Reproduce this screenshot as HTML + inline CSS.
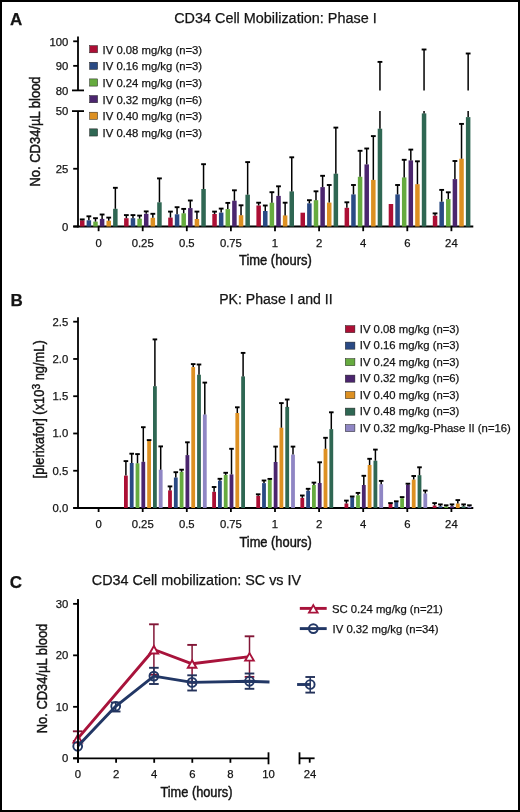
<!DOCTYPE html>
<html><head><meta charset="utf-8"><style>
html,body{margin:0;padding:0;background:#fff;}
#fig{position:relative;width:520px;height:812px;box-sizing:border-box;border:2px solid #000;background:#fff;overflow:hidden;}
svg{position:absolute;left:-2px;top:-2px;will-change:transform;}
text{font-family:"Liberation Sans", sans-serif;fill:#141414;stroke:#141414;stroke-width:0.25px;}
text.at{stroke-width:0.45px;}
</style></head><body><div id="fig">
<svg width="520" height="812" viewBox="0 0 520 812">
<text x="10.00" y="24.90" font-size="17" text-anchor="start" font-weight="bold">A</text>
<text x="174.20" y="22.60" font-size="14" text-anchor="start" font-weight="normal" textLength="202.5" lengthAdjust="spacingAndGlyphs">CD34 Cell Mobilization: Phase I</text>
<text class="at" transform="translate(39.6,186.6) rotate(-90)" font-size="14" textLength="110.2" lengthAdjust="spacingAndGlyphs">No. CD34/µL blood</text>
<line x1="78.00" y1="36.50" x2="78.00" y2="90.40" stroke="#000" stroke-width="1.8"/>
<line x1="72.00" y1="90.40" x2="84.00" y2="90.40" stroke="#000" stroke-width="1.8"/>
<line x1="78.00" y1="111.10" x2="78.00" y2="227.40" stroke="#000" stroke-width="1.8"/>
<line x1="72.00" y1="111.10" x2="84.00" y2="111.10" stroke="#000" stroke-width="1.8"/>
<line x1="73.20" y1="41.30" x2="78.00" y2="41.30" stroke="#000" stroke-width="1.8"/>
<line x1="73.20" y1="65.85" x2="78.00" y2="65.85" stroke="#000" stroke-width="1.8"/>
<line x1="73.20" y1="168.75" x2="78.00" y2="168.75" stroke="#000" stroke-width="1.8"/>
<line x1="73.20" y1="226.50" x2="78.00" y2="226.50" stroke="#000" stroke-width="1.8"/>
<text x="68.30" y="45.60" font-size="11.3" text-anchor="end" font-weight="normal">100</text>
<text x="68.30" y="70.15" font-size="11.3" text-anchor="end" font-weight="normal">90</text>
<text x="68.30" y="94.70" font-size="11.3" text-anchor="end" font-weight="normal">80</text>
<text x="68.30" y="115.30" font-size="11.3" text-anchor="end" font-weight="normal">50</text>
<text x="68.30" y="173.05" font-size="11.3" text-anchor="end" font-weight="normal">25</text>
<text x="68.30" y="230.80" font-size="11.3" text-anchor="end" font-weight="normal">0</text>
<line x1="73.30" y1="226.50" x2="473.30" y2="226.50" stroke="#000" stroke-width="1.8"/>
<line x1="98.60" y1="226.50" x2="98.60" y2="231.20" stroke="#000" stroke-width="1.8"/>
<text x="98.60" y="247.00" font-size="11.3" text-anchor="middle" font-weight="normal">0</text>
<line x1="142.70" y1="226.50" x2="142.70" y2="231.20" stroke="#000" stroke-width="1.8"/>
<text x="142.70" y="247.00" font-size="11.3" text-anchor="middle" font-weight="normal">0.25</text>
<line x1="186.80" y1="226.50" x2="186.80" y2="231.20" stroke="#000" stroke-width="1.8"/>
<text x="186.80" y="247.00" font-size="11.3" text-anchor="middle" font-weight="normal">0.5</text>
<line x1="230.90" y1="226.50" x2="230.90" y2="231.20" stroke="#000" stroke-width="1.8"/>
<text x="230.90" y="247.00" font-size="11.3" text-anchor="middle" font-weight="normal">0.75</text>
<line x1="275.00" y1="226.50" x2="275.00" y2="231.20" stroke="#000" stroke-width="1.8"/>
<text x="275.00" y="247.00" font-size="11.3" text-anchor="middle" font-weight="normal">1</text>
<line x1="319.10" y1="226.50" x2="319.10" y2="231.20" stroke="#000" stroke-width="1.8"/>
<text x="319.10" y="247.00" font-size="11.3" text-anchor="middle" font-weight="normal">2</text>
<line x1="363.20" y1="226.50" x2="363.20" y2="231.20" stroke="#000" stroke-width="1.8"/>
<text x="363.20" y="247.00" font-size="11.3" text-anchor="middle" font-weight="normal">4</text>
<line x1="407.30" y1="226.50" x2="407.30" y2="231.20" stroke="#000" stroke-width="1.8"/>
<text x="407.30" y="247.00" font-size="11.3" text-anchor="middle" font-weight="normal">6</text>
<line x1="451.40" y1="226.50" x2="451.40" y2="231.20" stroke="#000" stroke-width="1.8"/>
<text x="451.40" y="247.00" font-size="11.3" text-anchor="middle" font-weight="normal">24</text>
<text x="239.00" y="265.40" font-size="14" text-anchor="start" font-weight="normal" textLength="72.8" lengthAdjust="spacingAndGlyphs" class="at">Time (hours)</text>
<rect x="89.6" y="45.60" width="8" height="7.2" fill="#ac0f35" stroke="#222" stroke-width="0.5"/>
<text x="102.60" y="53.80" font-size="11.3" text-anchor="start" font-weight="normal">IV 0.08 mg/kg (n=3)</text>
<rect x="89.6" y="62.25" width="8" height="7.2" fill="#2a4a84" stroke="#222" stroke-width="0.5"/>
<text x="102.60" y="70.45" font-size="11.3" text-anchor="start" font-weight="normal">IV 0.16 mg/kg (n=3)</text>
<rect x="89.6" y="78.90" width="8" height="7.2" fill="#66ab3f" stroke="#222" stroke-width="0.5"/>
<text x="102.60" y="87.10" font-size="11.3" text-anchor="start" font-weight="normal">IV 0.24 mg/kg (n=3)</text>
<rect x="89.6" y="95.55" width="8" height="7.2" fill="#4b256e" stroke="#222" stroke-width="0.5"/>
<text x="102.60" y="103.75" font-size="11.3" text-anchor="start" font-weight="normal">IV 0.32 mg/kg (n=6)</text>
<rect x="89.6" y="112.20" width="8" height="7.2" fill="#dd9022" stroke="#222" stroke-width="0.5"/>
<text x="102.60" y="120.40" font-size="11.3" text-anchor="start" font-weight="normal">IV 0.40 mg/kg (n=3)</text>
<rect x="89.6" y="128.85" width="8" height="7.2" fill="#2f6753" stroke="#222" stroke-width="0.5"/>
<text x="102.60" y="137.05" font-size="11.3" text-anchor="start" font-weight="normal">IV 0.48 mg/kg (n=3)</text>
<rect x="80.00" y="220.30" width="4.50" height="6.20" fill="#ac0f35"/>
<line x1="82.25" y1="220.30" x2="82.25" y2="219.40" stroke="#000" stroke-width="1.5"/>
<line x1="79.85" y1="219.40" x2="84.65" y2="219.40" stroke="#000" stroke-width="1.9"/>
<rect x="86.62" y="220.30" width="4.50" height="6.20" fill="#2a4a84"/>
<line x1="88.87" y1="220.30" x2="88.87" y2="216.30" stroke="#000" stroke-width="1.5"/>
<line x1="86.47" y1="216.30" x2="91.27" y2="216.30" stroke="#000" stroke-width="1.9"/>
<rect x="93.24" y="221.60" width="4.50" height="4.90" fill="#66ab3f"/>
<line x1="95.49" y1="221.60" x2="95.49" y2="218.20" stroke="#000" stroke-width="1.5"/>
<line x1="93.09" y1="218.20" x2="97.89" y2="218.20" stroke="#000" stroke-width="1.9"/>
<rect x="99.86" y="218.90" width="4.50" height="7.60" fill="#4b256e"/>
<line x1="102.11" y1="218.90" x2="102.11" y2="214.50" stroke="#000" stroke-width="1.5"/>
<line x1="99.71" y1="214.50" x2="104.51" y2="214.50" stroke="#000" stroke-width="1.9"/>
<rect x="106.48" y="220.70" width="4.50" height="5.80" fill="#dd9022"/>
<line x1="108.73" y1="220.70" x2="108.73" y2="217.60" stroke="#000" stroke-width="1.5"/>
<line x1="106.33" y1="217.60" x2="111.13" y2="217.60" stroke="#000" stroke-width="1.9"/>
<rect x="113.10" y="208.80" width="4.50" height="17.70" fill="#2f6753"/>
<line x1="115.35" y1="208.80" x2="115.35" y2="187.80" stroke="#000" stroke-width="1.5"/>
<line x1="112.95" y1="187.80" x2="117.75" y2="187.80" stroke="#000" stroke-width="1.9"/>
<rect x="124.10" y="218.20" width="4.50" height="8.30" fill="#ac0f35"/>
<line x1="126.35" y1="218.20" x2="126.35" y2="215.10" stroke="#000" stroke-width="1.5"/>
<line x1="123.95" y1="215.10" x2="128.75" y2="215.10" stroke="#000" stroke-width="1.9"/>
<rect x="130.72" y="218.20" width="4.50" height="8.30" fill="#2a4a84"/>
<line x1="132.97" y1="218.20" x2="132.97" y2="215.10" stroke="#000" stroke-width="1.5"/>
<line x1="130.57" y1="215.10" x2="135.37" y2="215.10" stroke="#000" stroke-width="1.9"/>
<rect x="137.34" y="218.70" width="4.50" height="7.80" fill="#66ab3f"/>
<line x1="139.59" y1="218.70" x2="139.59" y2="215.60" stroke="#000" stroke-width="1.5"/>
<line x1="137.19" y1="215.60" x2="141.99" y2="215.60" stroke="#000" stroke-width="1.9"/>
<rect x="143.96" y="213.80" width="4.50" height="12.70" fill="#4b256e"/>
<line x1="146.21" y1="213.80" x2="146.21" y2="211.40" stroke="#000" stroke-width="1.5"/>
<line x1="143.81" y1="211.40" x2="148.61" y2="211.40" stroke="#000" stroke-width="1.9"/>
<rect x="150.58" y="217.80" width="4.50" height="8.70" fill="#dd9022"/>
<line x1="152.83" y1="217.80" x2="152.83" y2="213.80" stroke="#000" stroke-width="1.5"/>
<line x1="150.43" y1="213.80" x2="155.23" y2="213.80" stroke="#000" stroke-width="1.9"/>
<rect x="157.20" y="202.30" width="4.50" height="24.20" fill="#2f6753"/>
<line x1="159.45" y1="202.30" x2="159.45" y2="178.40" stroke="#000" stroke-width="1.5"/>
<line x1="157.05" y1="178.40" x2="161.85" y2="178.40" stroke="#000" stroke-width="1.9"/>
<rect x="168.20" y="217.60" width="4.50" height="8.90" fill="#ac0f35"/>
<line x1="170.45" y1="217.60" x2="170.45" y2="211.60" stroke="#000" stroke-width="1.5"/>
<line x1="168.05" y1="211.60" x2="172.85" y2="211.60" stroke="#000" stroke-width="1.9"/>
<rect x="174.82" y="214.30" width="4.50" height="12.20" fill="#2a4a84"/>
<line x1="177.07" y1="214.30" x2="177.07" y2="207.20" stroke="#000" stroke-width="1.5"/>
<line x1="174.67" y1="207.20" x2="179.47" y2="207.20" stroke="#000" stroke-width="1.9"/>
<rect x="181.44" y="213.30" width="4.50" height="13.20" fill="#66ab3f"/>
<line x1="183.69" y1="213.30" x2="183.69" y2="208.90" stroke="#000" stroke-width="1.5"/>
<line x1="181.29" y1="208.90" x2="186.09" y2="208.90" stroke="#000" stroke-width="1.9"/>
<rect x="188.06" y="208.10" width="4.50" height="18.40" fill="#4b256e"/>
<line x1="190.31" y1="208.10" x2="190.31" y2="200.50" stroke="#000" stroke-width="1.5"/>
<line x1="187.91" y1="200.50" x2="192.71" y2="200.50" stroke="#000" stroke-width="1.9"/>
<rect x="194.68" y="219.00" width="4.50" height="7.50" fill="#dd9022"/>
<line x1="196.93" y1="219.00" x2="196.93" y2="211.60" stroke="#000" stroke-width="1.5"/>
<line x1="194.53" y1="211.60" x2="199.33" y2="211.60" stroke="#000" stroke-width="1.9"/>
<rect x="201.30" y="189.00" width="4.50" height="37.50" fill="#2f6753"/>
<line x1="203.55" y1="189.00" x2="203.55" y2="164.20" stroke="#000" stroke-width="1.5"/>
<line x1="201.15" y1="164.20" x2="205.95" y2="164.20" stroke="#000" stroke-width="1.9"/>
<rect x="212.30" y="214.00" width="4.50" height="12.50" fill="#ac0f35"/>
<line x1="214.55" y1="214.00" x2="214.55" y2="211.60" stroke="#000" stroke-width="1.5"/>
<line x1="212.15" y1="211.60" x2="216.95" y2="211.60" stroke="#000" stroke-width="1.9"/>
<rect x="218.92" y="212.60" width="4.50" height="13.90" fill="#2a4a84"/>
<line x1="221.17" y1="212.60" x2="221.17" y2="208.60" stroke="#000" stroke-width="1.5"/>
<line x1="218.77" y1="208.60" x2="223.57" y2="208.60" stroke="#000" stroke-width="1.9"/>
<rect x="225.54" y="209.10" width="4.50" height="17.40" fill="#66ab3f"/>
<line x1="227.79" y1="209.10" x2="227.79" y2="202.90" stroke="#000" stroke-width="1.5"/>
<line x1="225.39" y1="202.90" x2="230.19" y2="202.90" stroke="#000" stroke-width="1.9"/>
<rect x="232.16" y="200.70" width="4.50" height="25.80" fill="#4b256e"/>
<line x1="234.41" y1="200.70" x2="234.41" y2="190.30" stroke="#000" stroke-width="1.5"/>
<line x1="232.01" y1="190.30" x2="236.81" y2="190.30" stroke="#000" stroke-width="1.9"/>
<rect x="238.78" y="215.20" width="4.50" height="11.30" fill="#dd9022"/>
<line x1="241.03" y1="215.20" x2="241.03" y2="205.30" stroke="#000" stroke-width="1.5"/>
<line x1="238.63" y1="205.30" x2="243.43" y2="205.30" stroke="#000" stroke-width="1.9"/>
<rect x="245.40" y="194.70" width="4.50" height="31.80" fill="#2f6753"/>
<line x1="247.65" y1="194.70" x2="247.65" y2="162.10" stroke="#000" stroke-width="1.5"/>
<line x1="245.25" y1="162.10" x2="250.05" y2="162.10" stroke="#000" stroke-width="1.9"/>
<rect x="256.40" y="205.50" width="4.50" height="21.00" fill="#ac0f35"/>
<line x1="258.65" y1="205.50" x2="258.65" y2="202.70" stroke="#000" stroke-width="1.5"/>
<line x1="256.25" y1="202.70" x2="261.05" y2="202.70" stroke="#000" stroke-width="1.9"/>
<rect x="263.02" y="211.00" width="4.50" height="15.50" fill="#2a4a84"/>
<line x1="265.27" y1="211.00" x2="265.27" y2="205.50" stroke="#000" stroke-width="1.5"/>
<line x1="262.87" y1="205.50" x2="267.67" y2="205.50" stroke="#000" stroke-width="1.9"/>
<rect x="269.64" y="202.70" width="4.50" height="23.80" fill="#66ab3f"/>
<line x1="271.89" y1="202.70" x2="271.89" y2="192.20" stroke="#000" stroke-width="1.5"/>
<line x1="269.49" y1="192.20" x2="274.29" y2="192.20" stroke="#000" stroke-width="1.9"/>
<rect x="276.26" y="195.90" width="4.50" height="30.60" fill="#4b256e"/>
<line x1="278.51" y1="195.90" x2="278.51" y2="186.30" stroke="#000" stroke-width="1.5"/>
<line x1="276.11" y1="186.30" x2="280.91" y2="186.30" stroke="#000" stroke-width="1.9"/>
<rect x="282.88" y="215.40" width="4.50" height="11.10" fill="#dd9022"/>
<line x1="285.13" y1="215.40" x2="285.13" y2="202.70" stroke="#000" stroke-width="1.5"/>
<line x1="282.73" y1="202.70" x2="287.53" y2="202.70" stroke="#000" stroke-width="1.9"/>
<rect x="289.50" y="191.40" width="4.50" height="35.10" fill="#2f6753"/>
<line x1="291.75" y1="191.40" x2="291.75" y2="157.30" stroke="#000" stroke-width="1.5"/>
<line x1="289.35" y1="157.30" x2="294.15" y2="157.30" stroke="#000" stroke-width="1.9"/>
<rect x="300.50" y="212.70" width="4.50" height="13.80" fill="#ac0f35"/>
<rect x="307.12" y="203.30" width="4.50" height="23.20" fill="#2a4a84"/>
<line x1="309.37" y1="203.30" x2="309.37" y2="200.20" stroke="#000" stroke-width="1.5"/>
<line x1="306.97" y1="200.20" x2="311.77" y2="200.20" stroke="#000" stroke-width="1.9"/>
<rect x="313.74" y="200.20" width="4.50" height="26.30" fill="#66ab3f"/>
<line x1="315.99" y1="200.20" x2="315.99" y2="191.30" stroke="#000" stroke-width="1.5"/>
<line x1="313.59" y1="191.30" x2="318.39" y2="191.30" stroke="#000" stroke-width="1.9"/>
<rect x="320.36" y="187.10" width="4.50" height="39.40" fill="#4b256e"/>
<line x1="322.61" y1="187.10" x2="322.61" y2="175.80" stroke="#000" stroke-width="1.5"/>
<line x1="320.21" y1="175.80" x2="325.01" y2="175.80" stroke="#000" stroke-width="1.9"/>
<rect x="326.98" y="202.60" width="4.50" height="23.90" fill="#dd9022"/>
<line x1="329.23" y1="202.60" x2="329.23" y2="185.00" stroke="#000" stroke-width="1.5"/>
<line x1="326.83" y1="185.00" x2="331.63" y2="185.00" stroke="#000" stroke-width="1.9"/>
<rect x="333.60" y="173.70" width="4.50" height="52.80" fill="#2f6753"/>
<line x1="335.85" y1="173.70" x2="335.85" y2="127.60" stroke="#000" stroke-width="1.5"/>
<line x1="333.45" y1="127.60" x2="338.25" y2="127.60" stroke="#000" stroke-width="1.9"/>
<rect x="344.60" y="207.80" width="4.50" height="18.70" fill="#ac0f35"/>
<line x1="346.85" y1="207.80" x2="346.85" y2="202.30" stroke="#000" stroke-width="1.5"/>
<line x1="344.45" y1="202.30" x2="349.25" y2="202.30" stroke="#000" stroke-width="1.9"/>
<rect x="351.22" y="194.40" width="4.50" height="32.10" fill="#2a4a84"/>
<line x1="353.47" y1="194.40" x2="353.47" y2="185.00" stroke="#000" stroke-width="1.5"/>
<line x1="351.07" y1="185.00" x2="355.87" y2="185.00" stroke="#000" stroke-width="1.9"/>
<rect x="357.84" y="176.80" width="4.50" height="49.70" fill="#66ab3f"/>
<line x1="360.09" y1="176.80" x2="360.09" y2="150.80" stroke="#000" stroke-width="1.5"/>
<line x1="357.69" y1="150.80" x2="362.49" y2="150.80" stroke="#000" stroke-width="1.9"/>
<rect x="364.46" y="164.40" width="4.50" height="62.10" fill="#4b256e"/>
<line x1="366.71" y1="164.40" x2="366.71" y2="148.50" stroke="#000" stroke-width="1.5"/>
<line x1="364.31" y1="148.50" x2="369.11" y2="148.50" stroke="#000" stroke-width="1.9"/>
<rect x="371.08" y="179.90" width="4.50" height="46.60" fill="#dd9022"/>
<line x1="373.33" y1="179.90" x2="373.33" y2="136.10" stroke="#000" stroke-width="1.5"/>
<line x1="370.93" y1="136.10" x2="375.73" y2="136.10" stroke="#000" stroke-width="1.9"/>
<rect x="377.70" y="128.70" width="4.50" height="97.80" fill="#2f6753"/>
<line x1="379.95" y1="128.70" x2="379.95" y2="111.10" stroke="#000" stroke-width="1.5"/>
<line x1="379.95" y1="90.40" x2="379.95" y2="61.90" stroke="#000" stroke-width="1.5"/>
<line x1="377.55" y1="61.90" x2="382.35" y2="61.90" stroke="#000" stroke-width="1.9"/>
<rect x="388.70" y="204.00" width="4.50" height="22.50" fill="#ac0f35"/>
<rect x="395.32" y="194.40" width="4.50" height="32.10" fill="#2a4a84"/>
<line x1="397.57" y1="194.40" x2="397.57" y2="185.00" stroke="#000" stroke-width="1.5"/>
<line x1="395.17" y1="185.00" x2="399.97" y2="185.00" stroke="#000" stroke-width="1.9"/>
<rect x="401.94" y="177.40" width="4.50" height="49.10" fill="#66ab3f"/>
<line x1="404.19" y1="177.40" x2="404.19" y2="159.80" stroke="#000" stroke-width="1.5"/>
<line x1="401.79" y1="159.80" x2="406.59" y2="159.80" stroke="#000" stroke-width="1.9"/>
<rect x="408.56" y="160.40" width="4.50" height="66.10" fill="#4b256e"/>
<line x1="410.81" y1="160.40" x2="410.81" y2="149.60" stroke="#000" stroke-width="1.5"/>
<line x1="408.41" y1="149.60" x2="413.21" y2="149.60" stroke="#000" stroke-width="1.9"/>
<rect x="415.18" y="184.20" width="4.50" height="42.30" fill="#dd9022"/>
<line x1="417.43" y1="184.20" x2="417.43" y2="161.30" stroke="#000" stroke-width="1.5"/>
<line x1="415.03" y1="161.30" x2="419.83" y2="161.30" stroke="#000" stroke-width="1.9"/>
<rect x="421.80" y="113.40" width="4.50" height="113.10" fill="#2f6753"/>
<line x1="424.05" y1="113.40" x2="424.05" y2="111.10" stroke="#000" stroke-width="1.5"/>
<line x1="424.05" y1="90.40" x2="424.05" y2="49.50" stroke="#000" stroke-width="1.5"/>
<line x1="421.65" y1="49.50" x2="426.45" y2="49.50" stroke="#000" stroke-width="1.9"/>
<rect x="432.80" y="215.70" width="4.50" height="10.80" fill="#ac0f35"/>
<line x1="435.05" y1="215.70" x2="435.05" y2="213.40" stroke="#000" stroke-width="1.5"/>
<line x1="432.65" y1="213.40" x2="437.45" y2="213.40" stroke="#000" stroke-width="1.9"/>
<rect x="439.42" y="201.70" width="4.50" height="24.80" fill="#2a4a84"/>
<line x1="441.67" y1="201.70" x2="441.67" y2="189.90" stroke="#000" stroke-width="1.5"/>
<line x1="439.27" y1="189.90" x2="444.07" y2="189.90" stroke="#000" stroke-width="1.9"/>
<rect x="446.04" y="199.10" width="4.50" height="27.40" fill="#66ab3f"/>
<line x1="448.29" y1="199.10" x2="448.29" y2="192.30" stroke="#000" stroke-width="1.5"/>
<line x1="445.89" y1="192.30" x2="450.69" y2="192.30" stroke="#000" stroke-width="1.9"/>
<rect x="452.66" y="179.10" width="4.50" height="47.40" fill="#4b256e"/>
<line x1="454.91" y1="179.10" x2="454.91" y2="161.00" stroke="#000" stroke-width="1.5"/>
<line x1="452.51" y1="161.00" x2="457.31" y2="161.00" stroke="#000" stroke-width="1.9"/>
<rect x="459.28" y="158.70" width="4.50" height="67.80" fill="#dd9022"/>
<line x1="461.53" y1="158.70" x2="461.53" y2="123.90" stroke="#000" stroke-width="1.5"/>
<line x1="459.13" y1="123.90" x2="463.93" y2="123.90" stroke="#000" stroke-width="1.9"/>
<rect x="465.90" y="117.10" width="4.50" height="109.40" fill="#2f6753"/>
<line x1="468.15" y1="117.10" x2="468.15" y2="111.10" stroke="#000" stroke-width="1.5"/>
<line x1="468.15" y1="90.40" x2="468.15" y2="53.50" stroke="#000" stroke-width="1.5"/>
<line x1="465.75" y1="53.50" x2="470.55" y2="53.50" stroke="#000" stroke-width="1.9"/>
<text x="10.60" y="305.60" font-size="17" text-anchor="start" font-weight="bold">B</text>
<text x="219.20" y="303.80" font-size="14" text-anchor="start" font-weight="normal" textLength="113.5" lengthAdjust="spacingAndGlyphs">PK: Phase I and II</text>
<text class="at" transform="translate(44.0,478.4) rotate(-90)" font-size="14" textLength="138.2" lengthAdjust="spacingAndGlyphs">[plerixafor] (x10<tspan font-size="11" dy="-4.2">3</tspan><tspan dy="4.2"> ng/mL)</tspan></text>
<line x1="78.00" y1="317.30" x2="78.00" y2="508.90" stroke="#000" stroke-width="1.8"/>
<line x1="73.20" y1="508.00" x2="78.00" y2="508.00" stroke="#000" stroke-width="1.8"/>
<text x="68.30" y="511.90" font-size="11.3" text-anchor="end" font-weight="normal">0.0</text>
<line x1="73.20" y1="470.74" x2="78.00" y2="470.74" stroke="#000" stroke-width="1.8"/>
<text x="68.30" y="474.64" font-size="11.3" text-anchor="end" font-weight="normal">0.5</text>
<line x1="73.20" y1="433.48" x2="78.00" y2="433.48" stroke="#000" stroke-width="1.8"/>
<text x="68.30" y="437.38" font-size="11.3" text-anchor="end" font-weight="normal">1.0</text>
<line x1="73.20" y1="396.22" x2="78.00" y2="396.22" stroke="#000" stroke-width="1.8"/>
<text x="68.30" y="400.12" font-size="11.3" text-anchor="end" font-weight="normal">1.5</text>
<line x1="73.20" y1="358.96" x2="78.00" y2="358.96" stroke="#000" stroke-width="1.8"/>
<text x="68.30" y="362.86" font-size="11.3" text-anchor="end" font-weight="normal">2.0</text>
<line x1="73.20" y1="321.70" x2="78.00" y2="321.70" stroke="#000" stroke-width="1.8"/>
<text x="68.30" y="325.60" font-size="11.3" text-anchor="end" font-weight="normal">2.5</text>
<line x1="73.30" y1="508.00" x2="473.30" y2="508.00" stroke="#000" stroke-width="1.8"/>
<line x1="98.60" y1="508.00" x2="98.60" y2="512.00" stroke="#000" stroke-width="1.8"/>
<text x="98.60" y="527.70" font-size="11.3" text-anchor="middle" font-weight="normal">0</text>
<line x1="142.70" y1="508.00" x2="142.70" y2="512.00" stroke="#000" stroke-width="1.8"/>
<text x="142.70" y="527.70" font-size="11.3" text-anchor="middle" font-weight="normal">0.25</text>
<line x1="186.80" y1="508.00" x2="186.80" y2="512.00" stroke="#000" stroke-width="1.8"/>
<text x="186.80" y="527.70" font-size="11.3" text-anchor="middle" font-weight="normal">0.5</text>
<line x1="230.90" y1="508.00" x2="230.90" y2="512.00" stroke="#000" stroke-width="1.8"/>
<text x="230.90" y="527.70" font-size="11.3" text-anchor="middle" font-weight="normal">0.75</text>
<line x1="275.00" y1="508.00" x2="275.00" y2="512.00" stroke="#000" stroke-width="1.8"/>
<text x="275.00" y="527.70" font-size="11.3" text-anchor="middle" font-weight="normal">1</text>
<line x1="319.10" y1="508.00" x2="319.10" y2="512.00" stroke="#000" stroke-width="1.8"/>
<text x="319.10" y="527.70" font-size="11.3" text-anchor="middle" font-weight="normal">2</text>
<line x1="363.20" y1="508.00" x2="363.20" y2="512.00" stroke="#000" stroke-width="1.8"/>
<text x="363.20" y="527.70" font-size="11.3" text-anchor="middle" font-weight="normal">4</text>
<line x1="407.30" y1="508.00" x2="407.30" y2="512.00" stroke="#000" stroke-width="1.8"/>
<text x="407.30" y="527.70" font-size="11.3" text-anchor="middle" font-weight="normal">6</text>
<line x1="451.40" y1="508.00" x2="451.40" y2="512.00" stroke="#000" stroke-width="1.8"/>
<text x="451.40" y="527.70" font-size="11.3" text-anchor="middle" font-weight="normal">24</text>
<text x="239.40" y="546.60" font-size="14" text-anchor="start" font-weight="normal" textLength="72.4" lengthAdjust="spacingAndGlyphs" class="at">Time (hours)</text>
<rect x="345.3" y="325.60" width="9.6" height="7.1" fill="#ac0f35" stroke="#222" stroke-width="0.5"/>
<text x="359.80" y="332.60" font-size="11.3" text-anchor="start" font-weight="normal">IV 0.08 mg/kg (n=3)</text>
<rect x="345.3" y="342.10" width="9.6" height="7.1" fill="#2a4a84" stroke="#222" stroke-width="0.5"/>
<text x="359.80" y="349.10" font-size="11.3" text-anchor="start" font-weight="normal">IV 0.16 mg/kg (n=3)</text>
<rect x="345.3" y="358.60" width="9.6" height="7.1" fill="#66ab3f" stroke="#222" stroke-width="0.5"/>
<text x="359.80" y="365.60" font-size="11.3" text-anchor="start" font-weight="normal">IV 0.24 mg/kg (n=3)</text>
<rect x="345.3" y="375.10" width="9.6" height="7.1" fill="#4b256e" stroke="#222" stroke-width="0.5"/>
<text x="359.80" y="382.10" font-size="11.3" text-anchor="start" font-weight="normal">IV 0.32 mg/kg (n=6)</text>
<rect x="345.3" y="391.60" width="9.6" height="7.1" fill="#dd9022" stroke="#222" stroke-width="0.5"/>
<text x="359.80" y="398.60" font-size="11.3" text-anchor="start" font-weight="normal">IV 0.40 mg/kg (n=3)</text>
<rect x="345.3" y="408.10" width="9.6" height="7.1" fill="#2f6753" stroke="#222" stroke-width="0.5"/>
<text x="359.80" y="415.10" font-size="11.3" text-anchor="start" font-weight="normal">IV 0.48 mg/kg (n=3)</text>
<rect x="345.3" y="424.60" width="9.6" height="7.1" fill="#8f86c4" stroke="#222" stroke-width="0.5"/>
<text x="359.80" y="431.60" font-size="11.3" text-anchor="start" font-weight="normal">IV 0.32 mg/kg-Phase II (n=16)</text>
<rect x="124.00" y="475.60" width="3.80" height="32.40" fill="#ac0f35"/>
<line x1="125.90" y1="475.60" x2="125.90" y2="461.10" stroke="#000" stroke-width="1.5"/>
<line x1="123.60" y1="461.10" x2="128.20" y2="461.10" stroke="#000" stroke-width="1.9"/>
<rect x="129.80" y="463.00" width="3.80" height="45.00" fill="#2a4a84"/>
<line x1="131.70" y1="463.00" x2="131.70" y2="453.70" stroke="#000" stroke-width="1.5"/>
<line x1="129.40" y1="453.70" x2="134.00" y2="453.70" stroke="#000" stroke-width="1.9"/>
<rect x="135.60" y="463.30" width="3.80" height="44.70" fill="#66ab3f"/>
<line x1="137.50" y1="463.30" x2="137.50" y2="454.10" stroke="#000" stroke-width="1.5"/>
<line x1="135.20" y1="454.10" x2="139.80" y2="454.10" stroke="#000" stroke-width="1.9"/>
<rect x="141.40" y="461.80" width="3.80" height="46.20" fill="#4b256e"/>
<line x1="143.30" y1="461.80" x2="143.30" y2="427.20" stroke="#000" stroke-width="1.5"/>
<line x1="141.00" y1="427.20" x2="145.60" y2="427.20" stroke="#000" stroke-width="1.9"/>
<rect x="147.20" y="440.80" width="3.80" height="67.20" fill="#dd9022"/>
<line x1="149.10" y1="440.80" x2="149.10" y2="440.10" stroke="#000" stroke-width="1.5"/>
<line x1="146.80" y1="440.10" x2="151.40" y2="440.10" stroke="#000" stroke-width="1.9"/>
<rect x="153.00" y="386.20" width="3.80" height="121.80" fill="#2f6753"/>
<line x1="154.90" y1="386.20" x2="154.90" y2="339.40" stroke="#000" stroke-width="1.5"/>
<line x1="152.60" y1="339.40" x2="157.20" y2="339.40" stroke="#000" stroke-width="1.9"/>
<rect x="158.80" y="469.70" width="3.80" height="38.30" fill="#8f86c4"/>
<line x1="160.70" y1="469.70" x2="160.70" y2="446.40" stroke="#000" stroke-width="1.5"/>
<line x1="158.40" y1="446.40" x2="163.00" y2="446.40" stroke="#000" stroke-width="1.9"/>
<rect x="168.10" y="490.40" width="3.80" height="17.60" fill="#ac0f35"/>
<line x1="170.00" y1="490.40" x2="170.00" y2="486.40" stroke="#000" stroke-width="1.5"/>
<line x1="167.70" y1="486.40" x2="172.30" y2="486.40" stroke="#000" stroke-width="1.9"/>
<rect x="173.90" y="477.50" width="3.80" height="30.50" fill="#2a4a84"/>
<line x1="175.80" y1="477.50" x2="175.80" y2="472.20" stroke="#000" stroke-width="1.5"/>
<line x1="173.50" y1="472.20" x2="178.10" y2="472.20" stroke="#000" stroke-width="1.9"/>
<rect x="179.70" y="471.80" width="3.80" height="36.20" fill="#66ab3f"/>
<line x1="181.60" y1="471.80" x2="181.60" y2="469.70" stroke="#000" stroke-width="1.5"/>
<line x1="179.30" y1="469.70" x2="183.90" y2="469.70" stroke="#000" stroke-width="1.9"/>
<rect x="185.50" y="455.10" width="3.80" height="52.90" fill="#4b256e"/>
<line x1="187.40" y1="455.10" x2="187.40" y2="442.30" stroke="#000" stroke-width="1.5"/>
<line x1="185.10" y1="442.30" x2="189.70" y2="442.30" stroke="#000" stroke-width="1.9"/>
<rect x="191.30" y="367.10" width="3.80" height="140.90" fill="#dd9022"/>
<line x1="193.20" y1="367.10" x2="193.20" y2="364.10" stroke="#000" stroke-width="1.5"/>
<line x1="190.90" y1="364.10" x2="195.50" y2="364.10" stroke="#000" stroke-width="1.9"/>
<rect x="197.10" y="374.70" width="3.80" height="133.30" fill="#2f6753"/>
<line x1="199.00" y1="374.70" x2="199.00" y2="364.50" stroke="#000" stroke-width="1.5"/>
<line x1="196.70" y1="364.50" x2="201.30" y2="364.50" stroke="#000" stroke-width="1.9"/>
<rect x="202.90" y="414.50" width="3.80" height="93.50" fill="#8f86c4"/>
<line x1="204.80" y1="414.50" x2="204.80" y2="382.60" stroke="#000" stroke-width="1.5"/>
<line x1="202.50" y1="382.60" x2="207.10" y2="382.60" stroke="#000" stroke-width="1.9"/>
<rect x="212.20" y="491.80" width="3.80" height="16.20" fill="#ac0f35"/>
<line x1="214.10" y1="491.80" x2="214.10" y2="487.00" stroke="#000" stroke-width="1.5"/>
<line x1="211.80" y1="487.00" x2="216.40" y2="487.00" stroke="#000" stroke-width="1.9"/>
<rect x="218.00" y="480.70" width="3.80" height="27.30" fill="#2a4a84"/>
<line x1="219.90" y1="480.70" x2="219.90" y2="478.80" stroke="#000" stroke-width="1.5"/>
<line x1="217.60" y1="478.80" x2="222.20" y2="478.80" stroke="#000" stroke-width="1.9"/>
<rect x="223.80" y="474.90" width="3.80" height="33.10" fill="#66ab3f"/>
<line x1="225.70" y1="474.90" x2="225.70" y2="472.80" stroke="#000" stroke-width="1.5"/>
<line x1="223.40" y1="472.80" x2="228.00" y2="472.80" stroke="#000" stroke-width="1.9"/>
<rect x="229.60" y="474.40" width="3.80" height="33.60" fill="#4b256e"/>
<line x1="231.50" y1="474.40" x2="231.50" y2="448.80" stroke="#000" stroke-width="1.5"/>
<line x1="229.20" y1="448.80" x2="233.80" y2="448.80" stroke="#000" stroke-width="1.9"/>
<rect x="235.40" y="413.00" width="3.80" height="95.00" fill="#dd9022"/>
<line x1="237.30" y1="413.00" x2="237.30" y2="407.30" stroke="#000" stroke-width="1.5"/>
<line x1="235.00" y1="407.30" x2="239.60" y2="407.30" stroke="#000" stroke-width="1.9"/>
<rect x="241.20" y="376.40" width="3.80" height="131.60" fill="#2f6753"/>
<line x1="243.10" y1="376.40" x2="243.10" y2="352.90" stroke="#000" stroke-width="1.5"/>
<line x1="240.80" y1="352.90" x2="245.40" y2="352.90" stroke="#000" stroke-width="1.9"/>
<rect x="256.30" y="495.80" width="3.80" height="12.20" fill="#ac0f35"/>
<line x1="258.20" y1="495.80" x2="258.20" y2="494.30" stroke="#000" stroke-width="1.5"/>
<line x1="255.90" y1="494.30" x2="260.50" y2="494.30" stroke="#000" stroke-width="1.9"/>
<rect x="262.10" y="483.10" width="3.80" height="24.90" fill="#2a4a84"/>
<line x1="264.00" y1="483.10" x2="264.00" y2="480.50" stroke="#000" stroke-width="1.5"/>
<line x1="261.70" y1="480.50" x2="266.30" y2="480.50" stroke="#000" stroke-width="1.9"/>
<rect x="267.90" y="480.00" width="3.80" height="28.00" fill="#66ab3f"/>
<line x1="269.80" y1="480.00" x2="269.80" y2="478.90" stroke="#000" stroke-width="1.5"/>
<line x1="267.50" y1="478.90" x2="272.10" y2="478.90" stroke="#000" stroke-width="1.9"/>
<rect x="273.70" y="462.00" width="3.80" height="46.00" fill="#4b256e"/>
<line x1="275.60" y1="462.00" x2="275.60" y2="446.60" stroke="#000" stroke-width="1.5"/>
<line x1="273.30" y1="446.60" x2="277.90" y2="446.60" stroke="#000" stroke-width="1.9"/>
<rect x="279.50" y="427.70" width="3.80" height="80.30" fill="#dd9022"/>
<line x1="281.40" y1="427.70" x2="281.40" y2="403.10" stroke="#000" stroke-width="1.5"/>
<line x1="279.10" y1="403.10" x2="283.70" y2="403.10" stroke="#000" stroke-width="1.9"/>
<rect x="285.30" y="406.90" width="3.80" height="101.10" fill="#2f6753"/>
<line x1="287.20" y1="406.90" x2="287.20" y2="399.50" stroke="#000" stroke-width="1.5"/>
<line x1="284.90" y1="399.50" x2="289.50" y2="399.50" stroke="#000" stroke-width="1.9"/>
<rect x="291.10" y="454.60" width="3.80" height="53.40" fill="#8f86c4"/>
<line x1="293.00" y1="454.60" x2="293.00" y2="446.60" stroke="#000" stroke-width="1.5"/>
<line x1="290.70" y1="446.60" x2="295.30" y2="446.60" stroke="#000" stroke-width="1.9"/>
<rect x="300.40" y="497.90" width="3.80" height="10.10" fill="#ac0f35"/>
<line x1="302.30" y1="497.90" x2="302.30" y2="495.50" stroke="#000" stroke-width="1.5"/>
<line x1="300.00" y1="495.50" x2="304.60" y2="495.50" stroke="#000" stroke-width="1.9"/>
<rect x="306.20" y="490.70" width="3.80" height="17.30" fill="#2a4a84"/>
<line x1="308.10" y1="490.70" x2="308.10" y2="488.80" stroke="#000" stroke-width="1.5"/>
<line x1="305.80" y1="488.80" x2="310.40" y2="488.80" stroke="#000" stroke-width="1.9"/>
<rect x="312.00" y="484.90" width="3.80" height="23.10" fill="#66ab3f"/>
<line x1="313.90" y1="484.90" x2="313.90" y2="482.60" stroke="#000" stroke-width="1.5"/>
<line x1="311.60" y1="482.60" x2="316.20" y2="482.60" stroke="#000" stroke-width="1.9"/>
<rect x="317.80" y="483.00" width="3.80" height="25.00" fill="#4b256e"/>
<line x1="319.70" y1="483.00" x2="319.70" y2="462.30" stroke="#000" stroke-width="1.5"/>
<line x1="317.40" y1="462.30" x2="322.00" y2="462.30" stroke="#000" stroke-width="1.9"/>
<rect x="323.60" y="448.80" width="3.80" height="59.20" fill="#dd9022"/>
<line x1="325.50" y1="448.80" x2="325.50" y2="437.80" stroke="#000" stroke-width="1.5"/>
<line x1="323.20" y1="437.80" x2="327.80" y2="437.80" stroke="#000" stroke-width="1.9"/>
<rect x="329.40" y="429.10" width="3.80" height="78.90" fill="#2f6753"/>
<line x1="331.30" y1="429.10" x2="331.30" y2="412.30" stroke="#000" stroke-width="1.5"/>
<line x1="329.00" y1="412.30" x2="333.60" y2="412.30" stroke="#000" stroke-width="1.9"/>
<rect x="344.50" y="503.50" width="3.80" height="4.50" fill="#ac0f35"/>
<line x1="346.40" y1="503.50" x2="346.40" y2="500.60" stroke="#000" stroke-width="1.5"/>
<line x1="344.10" y1="500.60" x2="348.70" y2="500.60" stroke="#000" stroke-width="1.9"/>
<rect x="350.30" y="497.20" width="3.80" height="10.80" fill="#2a4a84"/>
<line x1="352.20" y1="497.20" x2="352.20" y2="496.50" stroke="#000" stroke-width="1.5"/>
<line x1="349.90" y1="496.50" x2="354.50" y2="496.50" stroke="#000" stroke-width="1.9"/>
<rect x="356.10" y="495.30" width="3.80" height="12.70" fill="#66ab3f"/>
<line x1="358.00" y1="495.30" x2="358.00" y2="492.90" stroke="#000" stroke-width="1.5"/>
<line x1="355.70" y1="492.90" x2="360.30" y2="492.90" stroke="#000" stroke-width="1.9"/>
<rect x="361.90" y="485.00" width="3.80" height="23.00" fill="#4b256e"/>
<line x1="363.80" y1="485.00" x2="363.80" y2="475.80" stroke="#000" stroke-width="1.5"/>
<line x1="361.50" y1="475.80" x2="366.10" y2="475.80" stroke="#000" stroke-width="1.9"/>
<rect x="367.70" y="465.00" width="3.80" height="43.00" fill="#dd9022"/>
<line x1="369.60" y1="465.00" x2="369.60" y2="458.80" stroke="#000" stroke-width="1.5"/>
<line x1="367.30" y1="458.80" x2="371.90" y2="458.80" stroke="#000" stroke-width="1.9"/>
<rect x="373.50" y="460.70" width="3.80" height="47.30" fill="#2f6753"/>
<line x1="375.40" y1="460.70" x2="375.40" y2="449.60" stroke="#000" stroke-width="1.5"/>
<line x1="373.10" y1="449.60" x2="377.70" y2="449.60" stroke="#000" stroke-width="1.9"/>
<rect x="379.30" y="484.20" width="3.80" height="23.80" fill="#8f86c4"/>
<line x1="381.20" y1="484.20" x2="381.20" y2="480.90" stroke="#000" stroke-width="1.5"/>
<line x1="378.90" y1="480.90" x2="383.50" y2="480.90" stroke="#000" stroke-width="1.9"/>
<rect x="388.60" y="504.00" width="3.80" height="4.00" fill="#ac0f35"/>
<line x1="390.50" y1="504.00" x2="390.50" y2="503.10" stroke="#000" stroke-width="1.5"/>
<line x1="388.20" y1="503.10" x2="392.80" y2="503.10" stroke="#000" stroke-width="1.9"/>
<rect x="394.40" y="502.10" width="3.80" height="5.90" fill="#2a4a84"/>
<line x1="396.30" y1="502.10" x2="396.30" y2="501.30" stroke="#000" stroke-width="1.5"/>
<line x1="394.00" y1="501.30" x2="398.60" y2="501.30" stroke="#000" stroke-width="1.9"/>
<rect x="400.20" y="498.30" width="3.80" height="9.70" fill="#66ab3f"/>
<line x1="402.10" y1="498.30" x2="402.10" y2="497.10" stroke="#000" stroke-width="1.5"/>
<line x1="399.80" y1="497.10" x2="404.40" y2="497.10" stroke="#000" stroke-width="1.9"/>
<rect x="406.00" y="484.80" width="3.80" height="23.20" fill="#4b256e"/>
<line x1="407.90" y1="484.80" x2="407.90" y2="483.70" stroke="#000" stroke-width="1.5"/>
<line x1="405.60" y1="483.70" x2="410.20" y2="483.70" stroke="#000" stroke-width="1.9"/>
<rect x="411.80" y="479.50" width="3.80" height="28.50" fill="#dd9022"/>
<line x1="413.70" y1="479.50" x2="413.70" y2="476.00" stroke="#000" stroke-width="1.5"/>
<line x1="411.40" y1="476.00" x2="416.00" y2="476.00" stroke="#000" stroke-width="1.9"/>
<rect x="417.60" y="475.20" width="3.80" height="32.80" fill="#2f6753"/>
<line x1="419.50" y1="475.20" x2="419.50" y2="467.30" stroke="#000" stroke-width="1.5"/>
<line x1="417.20" y1="467.30" x2="421.80" y2="467.30" stroke="#000" stroke-width="1.9"/>
<rect x="423.40" y="493.50" width="3.80" height="14.50" fill="#8f86c4"/>
<line x1="425.30" y1="493.50" x2="425.30" y2="490.60" stroke="#000" stroke-width="1.5"/>
<line x1="423.00" y1="490.60" x2="427.60" y2="490.60" stroke="#000" stroke-width="1.9"/>
<rect x="432.70" y="505.50" width="3.80" height="2.50" fill="#ac0f35"/>
<line x1="434.60" y1="505.50" x2="434.60" y2="503.10" stroke="#000" stroke-width="1.5"/>
<line x1="432.30" y1="503.10" x2="436.90" y2="503.10" stroke="#000" stroke-width="1.9"/>
<rect x="438.50" y="506.30" width="3.80" height="1.70" fill="#2a4a84"/>
<line x1="440.40" y1="506.30" x2="440.40" y2="504.40" stroke="#000" stroke-width="1.5"/>
<line x1="438.10" y1="504.40" x2="442.70" y2="504.40" stroke="#000" stroke-width="1.9"/>
<rect x="444.30" y="506.50" width="3.80" height="1.50" fill="#66ab3f"/>
<line x1="446.20" y1="506.50" x2="446.20" y2="505.30" stroke="#000" stroke-width="1.5"/>
<line x1="443.90" y1="505.30" x2="448.50" y2="505.30" stroke="#000" stroke-width="1.9"/>
<rect x="450.10" y="506.30" width="3.80" height="1.70" fill="#4b256e"/>
<line x1="452.00" y1="506.30" x2="452.00" y2="504.40" stroke="#000" stroke-width="1.5"/>
<line x1="449.70" y1="504.40" x2="454.30" y2="504.40" stroke="#000" stroke-width="1.9"/>
<rect x="455.90" y="503.50" width="3.80" height="4.50" fill="#dd9022"/>
<line x1="457.80" y1="503.50" x2="457.80" y2="500.10" stroke="#000" stroke-width="1.5"/>
<line x1="455.50" y1="500.10" x2="460.10" y2="500.10" stroke="#000" stroke-width="1.9"/>
<rect x="461.70" y="506.30" width="3.80" height="1.70" fill="#2f6753"/>
<line x1="463.60" y1="506.30" x2="463.60" y2="504.40" stroke="#000" stroke-width="1.5"/>
<line x1="461.30" y1="504.40" x2="465.90" y2="504.40" stroke="#000" stroke-width="1.9"/>
<rect x="467.50" y="506.50" width="3.80" height="1.50" fill="#8f86c4"/>
<line x1="469.40" y1="506.50" x2="469.40" y2="505.30" stroke="#000" stroke-width="1.5"/>
<line x1="467.10" y1="505.30" x2="471.70" y2="505.30" stroke="#000" stroke-width="1.9"/>
<text x="9.80" y="587.60" font-size="17" text-anchor="start" font-weight="bold">C</text>
<text x="91.80" y="585.10" font-size="14" text-anchor="start" font-weight="normal" textLength="209.3" lengthAdjust="spacingAndGlyphs">CD34 Cell mobilization: SC vs IV</text>
<text class="at" transform="translate(47.0,733.3) rotate(-90)" font-size="14" textLength="109.6" lengthAdjust="spacingAndGlyphs">No. CD34/µL blood</text>
<line x1="78.00" y1="599.20" x2="78.00" y2="762.70" stroke="#000" stroke-width="1.8"/>
<line x1="73.10" y1="603.86" x2="78.00" y2="603.86" stroke="#000" stroke-width="1.8"/>
<text x="68.30" y="607.76" font-size="11.3" text-anchor="end" font-weight="normal">30</text>
<line x1="73.10" y1="655.34" x2="78.00" y2="655.34" stroke="#000" stroke-width="1.8"/>
<text x="68.30" y="659.24" font-size="11.3" text-anchor="end" font-weight="normal">20</text>
<line x1="73.10" y1="706.82" x2="78.00" y2="706.82" stroke="#000" stroke-width="1.8"/>
<text x="68.30" y="710.72" font-size="11.3" text-anchor="end" font-weight="normal">10</text>
<line x1="73.10" y1="758.30" x2="78.00" y2="758.30" stroke="#000" stroke-width="1.8"/>
<text x="68.30" y="762.20" font-size="11.3" text-anchor="end" font-weight="normal">0</text>
<line x1="73.10" y1="758.30" x2="268.50" y2="758.30" stroke="#000" stroke-width="1.8"/>
<line x1="268.50" y1="752.30" x2="268.50" y2="764.30" stroke="#000" stroke-width="1.8"/>
<line x1="299.50" y1="752.30" x2="299.50" y2="764.30" stroke="#000" stroke-width="1.8"/>
<line x1="299.50" y1="758.30" x2="314.60" y2="758.30" stroke="#000" stroke-width="1.8"/>
<line x1="309.70" y1="758.30" x2="309.70" y2="762.70" stroke="#000" stroke-width="1.8"/>
<line x1="116.10" y1="758.30" x2="116.10" y2="762.80" stroke="#000" stroke-width="1.8"/>
<line x1="154.20" y1="758.30" x2="154.20" y2="762.80" stroke="#000" stroke-width="1.8"/>
<line x1="192.30" y1="758.30" x2="192.30" y2="762.80" stroke="#000" stroke-width="1.8"/>
<line x1="230.40" y1="758.30" x2="230.40" y2="762.80" stroke="#000" stroke-width="1.8"/>
<text x="78.00" y="777.70" font-size="11.3" text-anchor="middle" font-weight="normal">0</text>
<text x="116.10" y="777.70" font-size="11.3" text-anchor="middle" font-weight="normal">2</text>
<text x="154.20" y="777.70" font-size="11.3" text-anchor="middle" font-weight="normal">4</text>
<text x="192.30" y="777.70" font-size="11.3" text-anchor="middle" font-weight="normal">6</text>
<text x="230.40" y="777.70" font-size="11.3" text-anchor="middle" font-weight="normal">8</text>
<text x="268.50" y="777.70" font-size="11.3" text-anchor="middle" font-weight="normal">10</text>
<text x="310.00" y="777.70" font-size="11.3" text-anchor="middle" font-weight="normal">24</text>
<text x="160.40" y="797.30" font-size="14" text-anchor="start" font-weight="normal" textLength="72.0" lengthAdjust="spacingAndGlyphs" class="at">Time (hours)</text>
<line x1="77.70" y1="731.30" x2="77.70" y2="741.00" stroke="#821636" stroke-width="1.5"/>
<line x1="72.90" y1="731.30" x2="82.50" y2="731.30" stroke="#821636" stroke-width="1.9"/>
<line x1="72.90" y1="741.00" x2="82.50" y2="741.00" stroke="#821636" stroke-width="1.9"/>
<line x1="153.90" y1="624.30" x2="153.90" y2="674.70" stroke="#821636" stroke-width="1.5"/>
<line x1="149.10" y1="624.30" x2="158.70" y2="624.30" stroke="#821636" stroke-width="1.9"/>
<line x1="149.10" y1="674.70" x2="158.70" y2="674.70" stroke="#821636" stroke-width="1.9"/>
<line x1="192.10" y1="644.90" x2="192.10" y2="682.70" stroke="#821636" stroke-width="1.5"/>
<line x1="187.30" y1="644.90" x2="196.90" y2="644.90" stroke="#821636" stroke-width="1.9"/>
<line x1="187.30" y1="682.70" x2="196.90" y2="682.70" stroke="#821636" stroke-width="1.9"/>
<line x1="249.50" y1="636.30" x2="249.50" y2="676.90" stroke="#821636" stroke-width="1.5"/>
<line x1="244.70" y1="636.30" x2="254.30" y2="636.30" stroke="#821636" stroke-width="1.9"/>
<line x1="244.70" y1="676.90" x2="254.30" y2="676.90" stroke="#821636" stroke-width="1.9"/>
<polyline points="77.70,738.60 153.90,649.50 192.10,663.80 249.50,656.60" fill="none" stroke="#a8133b" stroke-width="2.9" stroke-linejoin="round"/>
<path d="M77.70,735.10 L82.00,742.60 L73.40,742.60 Z" fill="#fff" stroke="#a8133b" stroke-width="1.9" stroke-linejoin="miter"/>
<path d="M153.90,646.00 L158.20,653.50 L149.60,653.50 Z" fill="#fff" stroke="#a8133b" stroke-width="1.9" stroke-linejoin="miter"/>
<path d="M192.10,660.30 L196.40,667.80 L187.80,667.80 Z" fill="#fff" stroke="#a8133b" stroke-width="1.9" stroke-linejoin="miter"/>
<path d="M249.50,653.10 L253.80,660.60 L245.20,660.60 Z" fill="#fff" stroke="#a8133b" stroke-width="1.9" stroke-linejoin="miter"/>
<line x1="115.70" y1="702.50" x2="115.70" y2="711.50" stroke="#24325a" stroke-width="1.5"/>
<line x1="110.90" y1="702.50" x2="120.50" y2="702.50" stroke="#24325a" stroke-width="1.9"/>
<line x1="110.90" y1="711.50" x2="120.50" y2="711.50" stroke="#24325a" stroke-width="1.9"/>
<line x1="153.90" y1="667.80" x2="153.90" y2="684.00" stroke="#24325a" stroke-width="1.5"/>
<line x1="149.10" y1="667.80" x2="158.70" y2="667.80" stroke="#24325a" stroke-width="1.9"/>
<line x1="149.10" y1="684.00" x2="158.70" y2="684.00" stroke="#24325a" stroke-width="1.9"/>
<line x1="192.10" y1="675.30" x2="192.10" y2="690.50" stroke="#24325a" stroke-width="1.5"/>
<line x1="187.30" y1="675.30" x2="196.90" y2="675.30" stroke="#24325a" stroke-width="1.9"/>
<line x1="187.30" y1="690.50" x2="196.90" y2="690.50" stroke="#24325a" stroke-width="1.9"/>
<line x1="249.50" y1="673.50" x2="249.50" y2="688.80" stroke="#24325a" stroke-width="1.5"/>
<line x1="244.70" y1="673.50" x2="254.30" y2="673.50" stroke="#24325a" stroke-width="1.9"/>
<line x1="244.70" y1="688.80" x2="254.30" y2="688.80" stroke="#24325a" stroke-width="1.9"/>
<line x1="310.20" y1="677.00" x2="310.20" y2="692.60" stroke="#24325a" stroke-width="1.5"/>
<line x1="305.40" y1="677.00" x2="315.00" y2="677.00" stroke="#24325a" stroke-width="1.9"/>
<line x1="305.40" y1="692.60" x2="315.00" y2="692.60" stroke="#24325a" stroke-width="1.9"/>
<polyline points="77.70,746.30 115.70,706.30 153.90,676.10 192.10,682.40 249.50,681.30 269.50,682.00" fill="none" stroke="#223765" stroke-width="2.9" stroke-linejoin="round"/>
<line x1="297.10" y1="684.50" x2="310.20" y2="684.50" stroke="#223765" stroke-width="2.9"/>
<circle cx="77.70" cy="746.30" r="4.4" fill="none" stroke="#223765" stroke-width="1.9"/>
<circle cx="115.70" cy="706.30" r="4.4" fill="none" stroke="#223765" stroke-width="1.9"/>
<circle cx="153.90" cy="676.10" r="4.4" fill="none" stroke="#223765" stroke-width="1.9"/>
<circle cx="192.10" cy="682.40" r="4.4" fill="none" stroke="#223765" stroke-width="1.9"/>
<circle cx="249.50" cy="681.30" r="4.4" fill="none" stroke="#223765" stroke-width="1.9"/>
<circle cx="310.20" cy="684.50" r="4.4" fill="none" stroke="#223765" stroke-width="1.9"/>
<line x1="78.00" y1="599.20" x2="78.00" y2="762.70" stroke="#000" stroke-width="1.8"/>
<line x1="299.80" y1="608.40" x2="326.70" y2="608.40" stroke="#a8133b" stroke-width="2.9"/>
<path d="M313.30,605.10 L317.60,612.60 L309.00,612.60 Z" fill="#fff" stroke="#a8133b" stroke-width="1.9" stroke-linejoin="miter"/>
<text x="332.00" y="612.60" font-size="11.3" text-anchor="start" font-weight="normal">SC 0.24 mg/kg (n=21)</text>
<line x1="299.80" y1="628.60" x2="326.70" y2="628.60" stroke="#223765" stroke-width="2.9"/>
<circle cx="313.30" cy="628.60" r="4.4" fill="none" stroke="#223765" stroke-width="1.9"/>
<text x="332.60" y="632.80" font-size="11.3" text-anchor="start" font-weight="normal">IV 0.32 mg/kg (n=34)</text>
</svg></div></body></html>
